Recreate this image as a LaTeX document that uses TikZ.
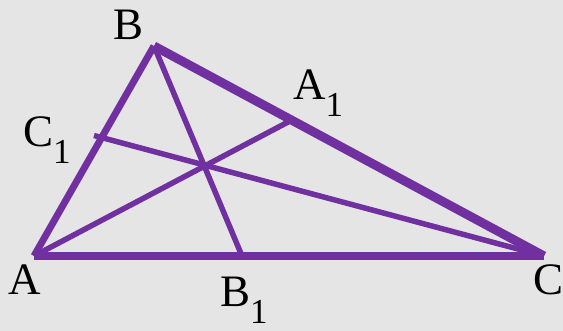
\documentclass[tikz,border=0pt]{standalone}
\usepackage{fontspec}
\setmainfont{Liberation Serif}
\definecolor{bgc}{RGB}{229,229,229}
\definecolor{vio}{RGB}{112,48,160}
\newcommand\lowidx[1]{\raisebox{-17pt}{\fontsize{35}{35}\selectfont #1}}
\begin{document}
\begin{tikzpicture}[x=1pt,y=-1pt,
  sidethick/.style={draw=vio,line width=8.5pt},
  sidemid/.style={draw=vio,line width=7pt},
  ceva/.style={draw=vio,line width=5.5pt},
  lbl/.style={inner sep=0pt,anchor=base west,font=\fontsize{45}{45}\selectfont}]
\fill[bgc] (0,0) rectangle (563,331);
\useasboundingbox (0,0) rectangle (563,331);
\coordinate (A) at (34,256);
\coordinate (B) at (154,46);
\coordinate (C) at (544,256);
\coordinate (A1) at (290,121);
\coordinate (B1) at (242,256);
\coordinate (C1) at (100,137);
\coordinate (T) at (94,135.5);
% cevians
\draw[ceva] (B) -- (B1);
\draw[ceva] (A) -- (A1);
\draw[ceva] (C) -- (T);
% sides
\draw[sidemid] (A) -- (B);
\draw[sidethick,line width=9pt] (B) -- (C);
\draw[sidethick] (A) -- (C);
% labels
\node[lbl] (lA) at (8,295) {A};
\node[lbl] (lB) at (113,40) {B};
\node[lbl] (lC) at (533,295) {C};
\node[lbl] (lA1) at (293,100) {A\lowidx{1}};
\node[lbl] (lB1) at (220,307) {B\lowidx{1}};
\node[lbl] (lC1) at (23,147) {C\lowidx{1}};
\end{tikzpicture}
\end{document}
